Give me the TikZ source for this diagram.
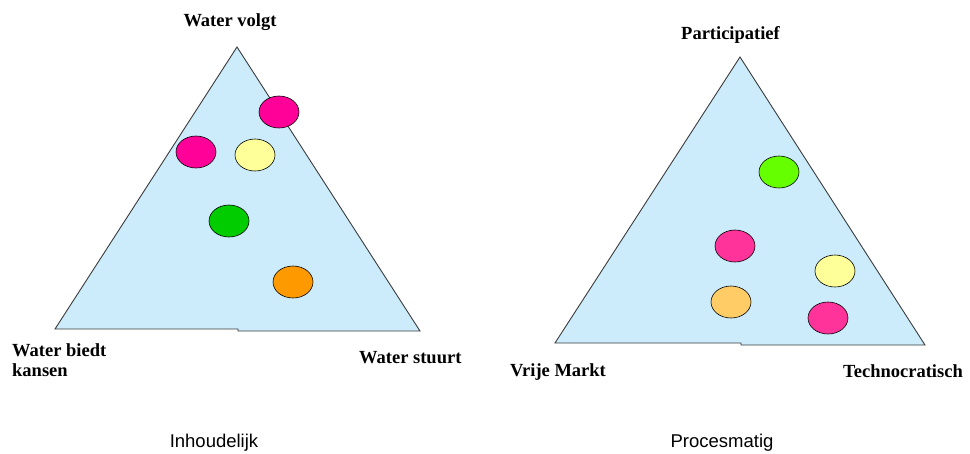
\documentclass[tikz,border=0pt]{standalone}
\usepackage{fontspec}
\setmainfont{Liberation Serif}
\setsansfont{Liberation Sans}
\usetikzlibrary{shapes.geometric}
\definecolor{triblue}{RGB}{204,236,252}
\definecolor{magA}{RGB}{255,0,153}
\definecolor{magB}{RGB}{255,51,153}
\definecolor{paleyel}{RGB}{255,255,153}
\definecolor{grnA}{RGB}{0,204,0}
\definecolor{grnB}{RGB}{102,255,0}
\definecolor{orgA}{RGB}{255,153,0}
\definecolor{orgB}{RGB}{255,204,102}
\definecolor{edgegray}{RGB}{60,60,60}
\tikzset{
  tri/.style={fill=triblue, draw=edgegray, line width=0.9pt, line join=miter},
  dot/.style={ellipse, draw=black, line width=0.6pt, minimum width=40pt, minimum height=32pt, inner sep=0pt, fill=#1},
  lab/.style={font=\fontsize{18.5}{22}\selectfont\bfseries, inner sep=0pt},
  ttl/.style={font=\fontsize{18.5}{22}\selectfont\sffamily, inner sep=0pt, anchor=base}
}
\begin{document}
\begin{tikzpicture}[x=1pt,y=-1pt]
\useasboundingbox (0,0) rectangle (970,453);
\fill[white] (0,0) rectangle (970,453);
% left triangle
\coordinate (LA) at (237,47);
\coordinate (LB) at (55,329);
\coordinate (LC) at (420,331);
\draw[tri] (LA) -- (LC) -- (238,331) -- (238,329) -- (LB) -- cycle;
% right triangle
\coordinate (RA) at (740,57);
\coordinate (RB) at (555,343);
\coordinate (RC) at (925,345);
\draw[tri] (RA) -- (RC) -- (741,345) -- (741,343) -- (RB) -- cycle;
% left dots
\node[dot=magA] (l1) at (279,112) {};
\node[dot=magA] (l2) at (196,152) {};
\node[dot=paleyel] (l3) at (255,155) {};
\node[dot=grnA] (l4) at (229,221) {};
\node[dot=orgA] (l5) at (293,282) {};
% right dots
\node[dot=grnB] (r1) at (779,172) {};
\node[dot=magB] (r2) at (735,246) {};
\node[dot=paleyel] (r3) at (835,271) {};
\node[dot=orgB] (r4) at (731,302) {};
\node[dot=magB] (r5) at (828,318) {};
% labels left
\node[lab, anchor=base] (wv) at (230,26) {Water volgt};
\node[lab, anchor=base west] (wb) at (12,356) {Water biedt};
\node[lab, anchor=base west] (wk) at (12,376) {kansen};
\node[lab, anchor=base west] (ws) at (359,363) {Water stuurt};
\node[ttl] (inh) at (214,447) {Inhoudelijk};
% labels right
\node[lab, anchor=base west] (pa) at (681,39) {Participatief};
\node[lab, anchor=base west] (vm) at (510,376) {Vrije Markt};
\node[lab, anchor=base west] (tc) at (843,377) {Technocratisch};
\node[ttl] (pm) at (722,447) {Procesmatig};
\end{tikzpicture}
\end{document}
